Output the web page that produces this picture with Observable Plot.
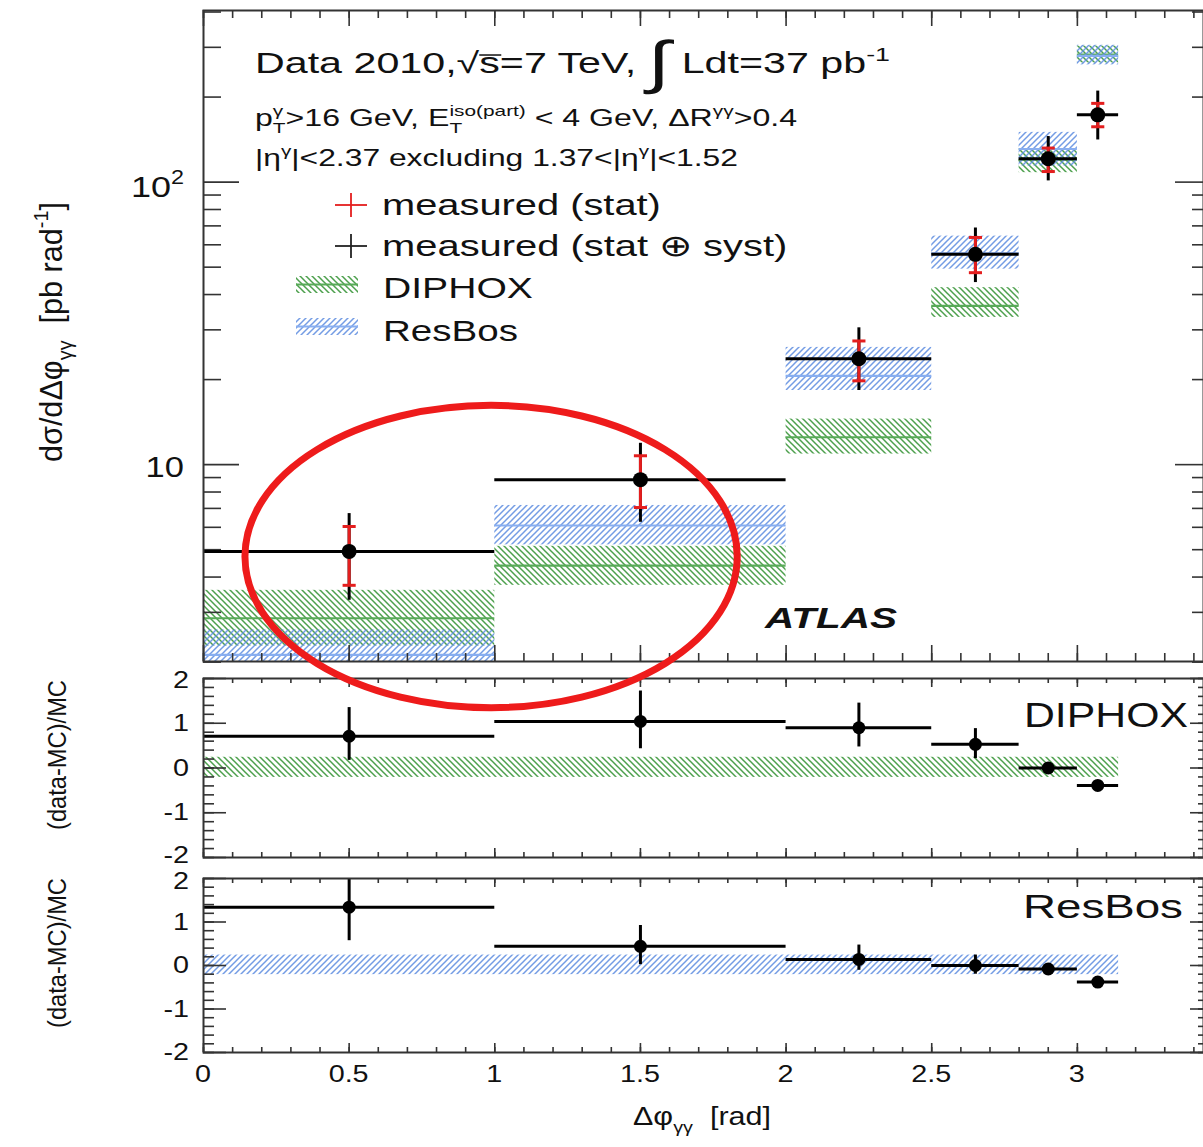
<!DOCTYPE html>
<html><head><meta charset="utf-8">
<script src="https://cdn.jsdelivr.net/npm/d3@7"></script>
<script src="https://cdn.jsdelivr.net/npm/@observablehq/plot@0.6"></script>
<style>
html,body{margin:0;padding:0;background:#fff;}
#chart{position:relative;width:1203px;height:1147px;overflow:hidden;background:#fff;}
#chart svg{display:block;}
</style></head><body><div id="chart"></div>
<script>
// ---------------- data ----------------
const binLo = [0, 1, 2, 2.5, 2.8, 3.0];
const binHi = [1, 2, 2.5, 2.8, 3.0, 3.1416];
const binCenter = [0.5, 1.5, 2.25, 2.65, 2.9, 3.07];

const dataXsec  = [4.93, 8.85, 23.7, 55.5, 121, 173];
const statDown  = [3.74, 7.05, 19.8, 47.8, 109, 157];
const statUp    = [6.04, 10.75, 27.4, 63.7, 132, 190];
const totalDown = [3.31, 6.25, 18.3, 44.1, 101, 141];
const totalUp   = [6.71, 11.9, 30.5, 68.8, 145, 210];

const diphoxXsec = [2.86, 4.39, 12.5, 36.5, 120, 283];
const diphoxDown = [2.28, 3.74, 10.9, 33.2, 108, 264];
const diphoxUp   = [3.59, 5.14, 14.5, 42.3, 131, 303];

const resbosXsec = [2.12, 6.09, 20.6, 56, 131, 280];
const resbosDown = [1.70, 5.20, 18.3, 49.2, 114, 260];
const resbosUp   = [2.60, 7.17, 26.0, 64.4, 150, 305];

const diphoxRatio     = [0.71, 1.04, 0.90, 0.53, 0.00, -0.39];
const diphoxRatioDown = [0.17, 0.43, 0.47, 0.21, -0.06, -0.43];
const diphoxRatioUp   = [1.35, 1.72, 1.45, 0.88, 0.06, -0.35];

const resbosRatio     = [1.34, 0.44, 0.14, 0.00, -0.08, -0.38];
const resbosRatioDown = [0.57, 0.02, -0.11, -0.20, -0.12, -0.42];
const resbosRatioUp   = [2.10, 0.92, 0.47, 0.24, -0.04, -0.34];

const diphoxBand = [-0.21, 0.24];
const resbosBand = [-0.21, 0.24];
const bandRange  = [0, 3.1416];

const xTickLabels = [0, 0.5, 1, 1.5, 2, 2.5, 3];
const yTopTickLabels = [10, 100];
const yTopMinorTicks = [2,3,4,5,6,7,8,9,20,30,40,50,60,70,80,90,200,300,400];
const yRatioTickLabels = [-2, -1, 0, 1, 2];

// annotation: red ellipse (centre in data units, half sizes in x units / decades)
const ellipseCentre = [0.989, 4.71];
const ellipseHalfWidth = 0.845;
const ellipseHalfDecades = 0.535;

// ---------------- layout & style ----------------
const W = 1203, ML = 203, MR = 0;
const X_DOMAIN = [0, 3.433];
const FONT = '"Liberation Sans", Arial, Helvetica, sans-serif';
const INK = "#111";
const AXIS = "#333";
const RED = "#e41e1e";
const GREEN_LINE = "#58aa58";
const BLUE_LINE = "#88aef0";
const NS = "http://www.w3.org/2000/svg";
const frameW = W - ML - MR;
const xMinorTicks = d3.range(0, 34.5, 1).map(v => v / 10);
const yRatioMinorTicks = d3.range(-10, 10.5, 1).map(v => v / 5);

const rows = binCenter.map((c, i) => ({
  c, lo: binLo[i], hi: binHi[i],
  v: dataXsec[i], sd: statDown[i], su: statUp[i], td: totalDown[i], tu: totalUp[i],
  dv: diphoxXsec[i], dd: diphoxDown[i], du: diphoxUp[i],
  rv: resbosXsec[i], rd: resbosDown[i], ru: resbosUp[i],
  qd: diphoxRatio[i], qdl: diphoxRatioDown[i], qdu: diphoxRatioUp[i],
  qr: resbosRatio[i], qrl: resbosRatioDown[i], qru: resbosRatioUp[i]
}));

function hatchDefs(prefix) {
  return () => {
    const defs = document.createElementNS(NS, "defs");
    defs.innerHTML = `
      <pattern id="${prefix}G" patternUnits="userSpaceOnUse" width="6" height="6">
        <path d="M-1,-1L7,7M-1,5L1,7M5,-1L7,1" stroke="#3a963a" stroke-width="1.5" stroke-opacity="0.9" fill="none"/>
      </pattern>
      <pattern id="${prefix}B" patternUnits="userSpaceOnUse" width="6" height="6">
        <path d="M-1,7L7,-1M-1,1L1,-1M5,7L7,5" stroke="#6592e2" stroke-width="1.5" stroke-opacity="0.9" fill="none"/>
      </pattern>`;
    return defs;
  };
}

const capSymbol = { draw(ctx, size) { const w = Math.sqrt(size); ctx.moveTo(-w, 0); ctx.lineTo(w, 0); } };

function tickMarks(frameH, t, yMajor, yMinor) {
  const st = {stroke: AXIS, strokeWidth: 1.6};
  return [
    Plot.ruleX(xMinorTicks, {x: d => d, insetTop: frameH - t.xMin, ...st}),
    Plot.ruleX(xMinorTicks, {x: d => d, insetBottom: frameH - t.xMin, ...st}),
    Plot.ruleX(xTickLabels, {x: d => d, insetTop: frameH - t.xMaj, ...st}),
    Plot.ruleX(xTickLabels, {x: d => d, insetBottom: frameH - t.xMaj, ...st}),
    Plot.ruleY(yMinor, {y: d => d, insetRight: frameW - t.yMinL, ...st}),
    Plot.ruleY(yMinor, {y: d => d, insetLeft: frameW - t.yMinR, ...st}),
    Plot.ruleY(yMajor, {y: d => d, insetRight: frameW - t.yMajL, ...st}),
    Plot.ruleY(yMajor, {y: d => d, insetLeft: frameW - t.yMajR, ...st})
  ];
}

// rich text with sub/superscripts, fitted horizontally
function richText(svgNode, o) {
  const {x, y, segs, size, weight = "normal", fstyle = "normal", anchor = "start",
         target = null, sx = 1.2, sy = 1, rotate = 0, fill = INK} = o;
  const g = d3.select(svgNode).append("g")
    .attr("transform", `translate(${x},${y})` + (rotate ? ` rotate(${rotate})` : ""));
  const inner = g.append("g");
  let cursor = 0, segStart = 0;
  for (const s of segs) {
    const small = s.sup || s.sub;
    const fs = size * (small ? 0.65 : (s.scale || 1));
    const dy = s.sup ? -0.42 * size : s.sub ? 0.3 * size : (s.dy || 0) * size;
    const start = s.stack ? segStart : cursor;
    const t = inner.append("text").attr("x", start).attr("y", dy)
      .attr("text-anchor", "start")
      .attr("font-family", FONT).attr("font-size", fs)
      .attr("font-weight", weight).attr("font-style", fstyle)
      .attr("fill", fill).style("white-space", "pre").text(s.t);
    const w = t.node().getComputedTextLength();
    if (s.over) {
      inner.append("line").attr("x1", start).attr("x2", start + w + 1)
        .attr("y1", dy - 0.62 * fs).attr("y2", dy - 0.62 * fs)
        .attr("stroke", fill).attr("stroke-width", 1.5);
    }
    if (s.stack) cursor = Math.max(cursor, start + w);
    else { segStart = start; cursor = start + w; }
  }
  const natural = cursor;
  const k = target ? target / natural : sx;
  const off = anchor === "end" ? -natural : anchor === "middle" ? -natural / 2 : 0;
  inner.attr("transform", `scale(${k},${sy}) translate(${off},0)`);
}

const chart = document.getElementById("chart");

// ---------------- top panel ----------------
const topH = 665, topMT = 10, topMB = 4, topFrameH = topH - topMT - topMB;
const ellipseMark = (index, scales) => {
  const cx = scales.x(ellipseCentre[0]), cy = scales.y(ellipseCentre[1]);
  const rx = scales.x(ellipseCentre[0] + ellipseHalfWidth) - cx;
  const ry = cy - scales.y(ellipseCentre[1] * Math.pow(10, ellipseHalfDecades));
  const el = document.createElementNS(NS, "ellipse");
  el.setAttribute("cx", cx); el.setAttribute("cy", cy);
  el.setAttribute("rx", rx); el.setAttribute("ry", ry);
  el.setAttribute("fill", "none"); el.setAttribute("stroke", "#ee1b1b");
  el.setAttribute("stroke-width", 7);
  return el;
};

const topPlot = Plot.plot({
  width: W, height: topH, marginLeft: ML, marginRight: MR, marginTop: topMT, marginBottom: topMB,
  x: {domain: X_DOMAIN, axis: null},
  y: {type: "log", domain: [2.01, 405], axis: null},
  marks: [
    hatchDefs("top"),
    Plot.rect(rows, {x1: "lo", x2: "hi", y1: "dd", y2: "du", fill: "url(#topG)", clip: true}),
    Plot.ruleY(rows, {y: "dv", x1: "lo", x2: "hi", stroke: GREEN_LINE, strokeWidth: 2.2, clip: true}),
    Plot.rect(rows, {x1: "lo", x2: "hi", y1: "rd", y2: "ru", fill: "url(#topB)", clip: true}),
    Plot.ruleY(rows, {y: "rv", x1: "lo", x2: "hi", stroke: BLUE_LINE, strokeWidth: 2.2, clip: true}),
    ...tickMarks(topFrameH, {xMaj: 16, xMin: 8, yMajL: 36, yMinL: 18, yMajR: 28, yMinR: 11}, yTopTickLabels, yTopMinorTicks),
    Plot.ruleY(rows, {y: "v", x1: "lo", x2: "hi", stroke: "#000", strokeWidth: 3}),
    Plot.ruleX(rows, {x: "c", y1: "td", y2: "tu", stroke: "#000", strokeWidth: 3}),
    Plot.ruleX(rows, {x: "c", y1: "sd", y2: "su", stroke: RED, strokeWidth: 3}),
    Plot.dot(rows, {x: "c", y: "sd", symbol: capSymbol, r: 3.7, stroke: RED, strokeWidth: 3, fill: "none"}),
    Plot.dot(rows, {x: "c", y: "su", symbol: capSymbol, r: 3.7, stroke: RED, strokeWidth: 3, fill: "none"}),
    Plot.dot(rows, {x: "c", y: "v", r: 7.5, fill: "#000"}),
    Plot.frame({stroke: AXIS, strokeWidth: 2}),
    ellipseMark
  ]
});
Object.assign(topPlot.style, {background: "transparent", overflow: "visible", position: "relative", zIndex: "3"});
chart.appendChild(topPlot);

{
  const sy = topPlot.scale("y");
  // y tick labels
  richText(topPlot, {x: 184, y: sy.apply(100) + 15, size: 30, anchor: "end", sx: 1.2,
    segs: [{t: "10"}, {t: "2", sup: true}]});
  richText(topPlot, {x: 184, y: sy.apply(10) + 13, size: 30, anchor: "end", sx: 1.15,
    segs: [{t: "10"}]});
  // y title
  richText(topPlot, {x: 62, y: 332, size: 28, anchor: "middle", target: 260, sy: 1.15, rotate: -90,
    segs: [{t: "dσ/dΔφ"}, {t: "γγ", sub: true}, {t: "  [pb rad"}, {t: "-1", sup: true}, {t: "]"}]});
  // header lines
  richText(topPlot, {x: 255, y: 73, size: 29, target: 635,
    segs: [{t: "Data 2010,"}, {t: "√"}, {t: "s", over: true}, {t: "=7 TeV, "},
           {t: "∫", scale: 2.0, dy: 0.3}, {t: " Ldt=37 pb"}, {t: "-1", sup: true}]});
  richText(topPlot, {x: 255, y: 126, size: 23, target: 542,
    segs: [{t: "p"}, {t: "T", sub: true}, {t: "γ", sup: true, stack: true}, {t: ">16 GeV, E"},
           {t: "T", sub: true}, {t: "iso(part)", sup: true, stack: true}, {t: " < 4 GeV, ΔR"},
           {t: "γγ", sup: true}, {t: ">0.4"}]});
  richText(topPlot, {x: 255, y: 166, size: 23, target: 483,
    segs: [{t: "|η"}, {t: "γ", sup: true}, {t: "|<2.37 excluding 1.37<|η"}, {t: "γ", sup: true}, {t: "|<1.52"}]});
  // legend
  const sel = d3.select(topPlot);
  const cross = (cx, cy, col) => {
    sel.append("line").attr("x1", cx - 16).attr("x2", cx + 16).attr("y1", cy).attr("y2", cy).attr("stroke", col).attr("stroke-width", 1.8);
    sel.append("line").attr("x1", cx).attr("x2", cx).attr("y1", cy - 12).attr("y2", cy + 12).attr("stroke", col).attr("stroke-width", 1.8);
  };
  cross(351, 205, RED);
  cross(351, 246, "#222");
  const box = (y0, y1, fill, line) => {
    sel.append("rect").attr("x", 296).attr("y", y0).attr("width", 62).attr("height", y1 - y0).attr("fill", fill);
    sel.append("line").attr("x1", 296).attr("x2", 358).attr("y1", (y0 + y1) / 2).attr("y2", (y0 + y1) / 2).attr("stroke", line).attr("stroke-width", 2);
  };
  box(276, 293, "url(#topG)", GREEN_LINE);
  box(318, 335, "url(#topB)", BLUE_LINE);
  richText(topPlot, {x: 382, y: 215, size: 30, target: 279, segs: [{t: "measured (stat)"}]});
  richText(topPlot, {x: 382, y: 256, size: 30, target: 406, segs: [{t: "measured (stat ⊕ syst)"}]});
  richText(topPlot, {x: 383, y: 298, size: 30, target: 150, segs: [{t: "DIPHOX"}]});
  richText(topPlot, {x: 383, y: 341, size: 30, target: 135, segs: [{t: "ResBos"}]});
  richText(topPlot, {x: 765, y: 628, size: 30, weight: "bold", fstyle: "italic", target: 132, segs: [{t: "ATLAS"}]});
}

// ---------------- ratio panels ----------------
function ratioPanel(o) {
  const frameH = o.height - o.mt - o.mb;
  const band = [{x1: bandRange[0], x2: bandRange[1], y1: o.band[0], y2: o.band[1]}];
  const p = Plot.plot({
    width: W, height: o.height, marginLeft: ML, marginRight: MR, marginTop: o.mt, marginBottom: o.mb,
    x: {domain: X_DOMAIN, axis: null},
    y: {domain: [-2, 2], axis: null},
    marks: [
      hatchDefs(o.id),
      Plot.rect(band, {x1: "x1", x2: "x2", y1: "y1", y2: "y2", fill: `url(#${o.id}${o.pat})`}),
      ...tickMarks(frameH, {xMaj: 9, xMin: 5, yMajL: 23, yMinL: 11, yMajR: 13, yMinR: 5}, yRatioTickLabels, yRatioMinorTicks),
      Plot.ruleY(rows, {y: o.val, x1: "lo", x2: "hi", stroke: "#000", strokeWidth: 3}),
      Plot.ruleX(rows, {x: "c", y1: o.lo, y2: o.hi, stroke: "#000", strokeWidth: 3, clip: true}),
      Plot.dot(rows, {x: "c", y: o.val, r: 6.5, fill: "#000"}),
      Plot.frame({stroke: AXIS, strokeWidth: 2})
    ]
  });
  Object.assign(p.style, {background: "transparent", overflow: "visible"});
  chart.appendChild(p);
  const sy = p.scale("y");
  for (const v of yRatioTickLabels) {
    const nudge = (v === -2 ? o.nudgeBottom : v === 2 ? o.nudgeTop : 0);
    richText(p, {x: 189, y: sy.apply(v) + 8 + nudge, size: 23, anchor: "end", sx: 1.25, segs: [{t: String(v)}]});
  }
  richText(p, {x: 66, y: o.titleY, size: 22, anchor: "middle", target: 150, sy: 1.15, rotate: -90,
    segs: [{t: "(data-MC)/MC"}]});
  richText(p, {x: o.labelX, y: o.labelY, size: o.labelSize, target: o.labelW, segs: [{t: o.label}]});
  return p;
}

ratioPanel({id: "r1", height: 202, mt: 13, mb: 10, band: diphoxBand, pat: "G",
  val: "qd", lo: "qdl", hi: "qdu", titleY: 90, nudgeTop: 2, nudgeBottom: -2,
  label: "DIPHOX", labelX: 1024, labelY: 62, labelSize: 35, labelW: 164});

const bottom = ratioPanel({id: "r2", height: 280, mt: 11, mb: 95, band: resbosBand, pat: "B",
  val: "qr", lo: "qrl", hi: "qru", titleY: 86, nudgeTop: 3, nudgeBottom: 0,
  label: "ResBos", labelX: 1023, labelY: 51, labelSize: 33, labelW: 160});

{
  const sx = bottom.scale("x");
  for (const v of xTickLabels) {
    richText(bottom, {x: sx.apply(v), y: 215, size: 23, anchor: "middle", sx: 1.25, segs: [{t: String(v)}]});
  }
  richText(bottom, {x: 633, y: 258, size: 26, target: 138,
    segs: [{t: "Δφ"}, {t: "γγ", sub: true}, {t: "  [rad]"}]});
}
</script></body></html>
